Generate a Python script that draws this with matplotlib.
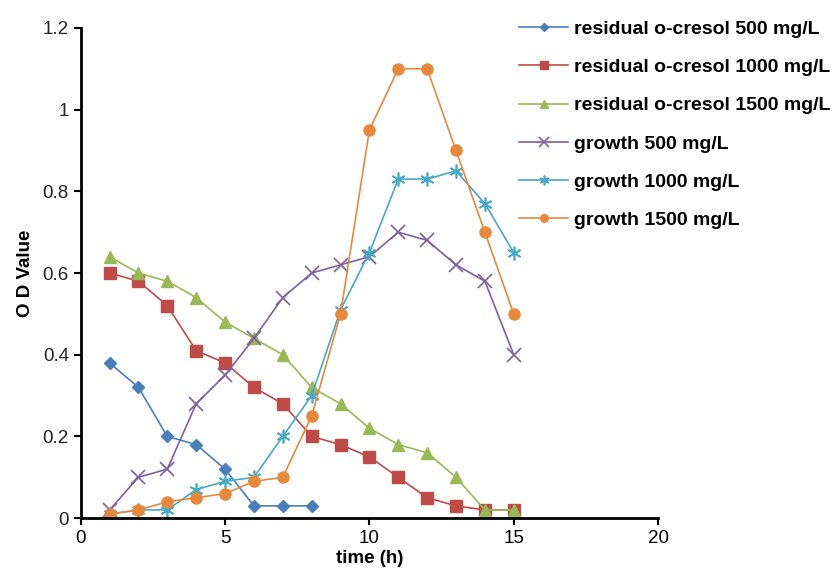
import numpy as np
import matplotlib
matplotlib.use("Agg")
import matplotlib.pyplot as plt

plt.rcParams['font.family'] = ['Liberation Sans', 'DejaVu Sans']

# ==========================================
# DATA
# ==========================================
t_500 = [1, 2, 3, 4, 5, 6, 7, 8]
t_all = list(range(1, 16))

res_500 = [0.38, 0.32, 0.20, 0.18, 0.12, 0.03, 0.03, 0.03]
res_1000 = [0.60, 0.58, 0.52, 0.41, 0.38, 0.32, 0.28, 0.20, 0.18, 0.15, 0.10, 0.05, 0.03, 0.02, 0.02]
res_1500 = [0.64, 0.60, 0.58, 0.54, 0.48, 0.44, 0.40, 0.32, 0.28, 0.22, 0.18, 0.16, 0.10, 0.02, 0.02]
gr_500 = [0.02, 0.10, 0.12, 0.28, 0.35, 0.44, 0.54, 0.60, 0.62, 0.64, 0.70, 0.68, 0.62, 0.58, 0.40]
gr_1000 = [0.01, 0.02, 0.02, 0.07, 0.09, 0.10, 0.20, 0.30, 0.51, 0.65, 0.83, 0.83, 0.85, 0.77, 0.65]
gr_1500 = [0.01, 0.02, 0.04, 0.05, 0.06, 0.09, 0.10, 0.25, 0.50, 0.95, 1.10, 1.10, 0.90, 0.70, 0.50]

labels = ["residual o-cresol 500 mg/L", "residual o-cresol 1000 mg/L",
          "residual o-cresol 1500 mg/L", "growth 500 mg/L",
          "growth 1000 mg/L", "growth 1500 mg/L"]

# ==========================================
# PLOT
# ==========================================
fig = plt.figure(figsize=(8.32, 5.70), dpi=100)
ax = fig.add_axes([0.097, 0.091, 0.694, 0.860])

ax.plot(t_500, res_500, '-D', color='#4A7EBB', ms=6, lw=1.2, label=labels[0])
ax.plot(t_all, res_1000, '-s', color='#BE4B48', ms=8, lw=1.2, label=labels[1])
ax.plot(t_all, res_1500, '-^', color='#98B954', ms=8, lw=1.2, label=labels[2])
ax.plot(t_all, gr_500, '-x', color='#7D60A0', ms=10, mew=1.2, lw=1.2, label=labels[3])
ax.plot(t_all, gr_1000, '-', marker=(6, 2, 0), color='#46AAC5', ms=10, mew=1.2, lw=1.2, label=labels[4])
ax.plot(t_all, gr_1500, '-o', color='#E8883A', ms=8, lw=1.2, label=labels[5])

ax.set_xlim(0, 20)
ax.set_ylim(0, 1.2)
ax.set_xticks([0, 5, 10, 15, 20])
ax.set_yticks([0, 0.2, 0.4, 0.6, 0.8, 1.0, 1.2])
ax.set_yticklabels(["0", "0.2", "0.4", "0.6", "0.8", "1", "1.2"])

for s in ['top', 'right']:
    ax.spines[s].set_visible(False)
for s in ['left', 'bottom']:
    ax.spines[s].set_linewidth(2)
ax.tick_params(axis='both', labelsize=13.5, width=1.5, length=5, colors='black')
ax.tick_params(axis='y', labelcolor='#222222')

ax.set_xlabel("time (h)", fontsize=13.5, fontweight='bold', labelpad=2)
ax.set_ylabel("O D Value", fontsize=13.5, fontweight='bold', labelpad=6)

fig.legend(loc='upper left', bbox_to_anchor=(0.603, 0.995), frameon=False,
           prop={'weight': 'bold', 'size': 14}, handlelength=2.5,
           labelspacing=1.06, markerscale=0.7, handletextpad=0.3)

plt.savefig("out.png", dpi=100)
